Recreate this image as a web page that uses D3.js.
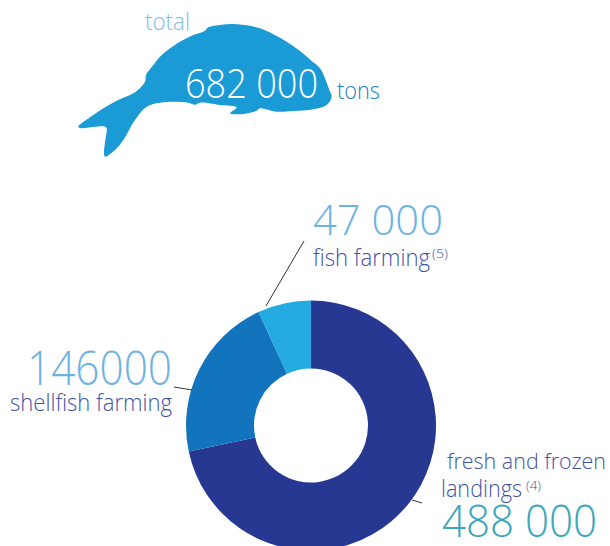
<!DOCTYPE html>
<html><head><meta charset="utf-8">
<script src="https://cdn.jsdelivr.net/npm/d3@7"></script>
<style>html,body{margin:0;padding:0;background:#fff;overflow:hidden}svg{display:block}
text{font-family:"Open Sans","Noto Sans",sans-serif;font-weight:300}</style></head>
<body><svg id="c" width="610" height="546"></svg>
<script>
const categories = ["fresh and frozen landings", "shellfish farming", "fish farming"];
const values = [488000, 146000, 47000];
const sliceColors = ["#263891", "#1174bc", "#24a9e1"];
const svg = d3.select("#c");

const fishOutline = [[55,380],[90,352],[130,325],[180,298],[225,277],[255,245],[258,225],[280,195],[300,170],[330,145],[360,125],[400,105],[435,92],[445,82],[480,75],[520,72],[560,76],[600,85],[640,103],[680,125],[720,153],[755,183],[780,205],[795,235],[808,270],[815,290],[800,315],[760,328],[700,333],[650,335],[600,325],[590,332],[550,342],[510,340],[530,322],[480,315],[420,308],[405,314],[385,308],[340,305],[300,308],[260,320],[225,360],[190,420],[165,450],[135,470],[132,460],[136,420],[140,385],[135,380],[100,381],[60,384]]
  .map(p => [p[0] / 3 + 60, p[1] / 3]);
svg.append("path").attr("d", d3.line().curve(d3.curveCatmullRomClosed.alpha(0.5))(fishOutline)).attr("fill", "#1a9bd5");

const pie = d3.pie().sort(null).value(d => d);
const arc = d3.arc().innerRadius(57).outerRadius(125);
svg.append("g").attr("transform", "translate(311,425.5)")
  .selectAll("path").data(pie(values)).join("path")
  .attr("d", arc).attr("fill", (d, i) => sliceColors[i]);

const leaders = [[304,241,266,306],[174,387,192,390],[412,500,422,503]];
svg.selectAll("line").data(leaders).join("line")
  .attr("x1", d => d[0]).attr("y1", d => d[1]).attr("x2", d => d[2]).attr("y2", d => d[3])
  .attr("stroke", "#333").attr("stroke-width", 1);

const labels = [
  ["total", 145, 30, 24, "#7fbde8", 45],
  ["682 000", 185, 98, 41, "#ffffff", 133],
  ["tons", 337, 99, 24, "#1a7fc1", 43],
  ["47 000", 313, 235, 43, "#6db3e2", 130],
  ["fish farming", 313, 266, 23, "#3f53a6", 117],
  ["(5)", 432, 258, 12, "#3f53a6", 16],
  ["146000", 27, 385, 47, "#6db3e2", 145],
  ["shellfish farming", 10, 411, 23, "#3f53a6", 162],
  ["fresh and frozen", 447, 469, 22, "#3f53a6", 159],
  ["landings", 441, 497, 23, "#3f53a6", 81],
  ["(4)", 526, 490, 12, "#3f53a6", 15],
  ["488 000", 442, 537, 44, "#3aa5bd", 155]
];
svg.selectAll("text").data(labels).join("text")
  .attr("x", d => d[1]).attr("y", d => d[2]).attr("font-size", d => d[3]).attr("fill", d => d[4])
  .attr("textLength", d => d[5]).attr("lengthAdjust", "spacingAndGlyphs")
  .text(d => d[0]);
</script></body></html>
